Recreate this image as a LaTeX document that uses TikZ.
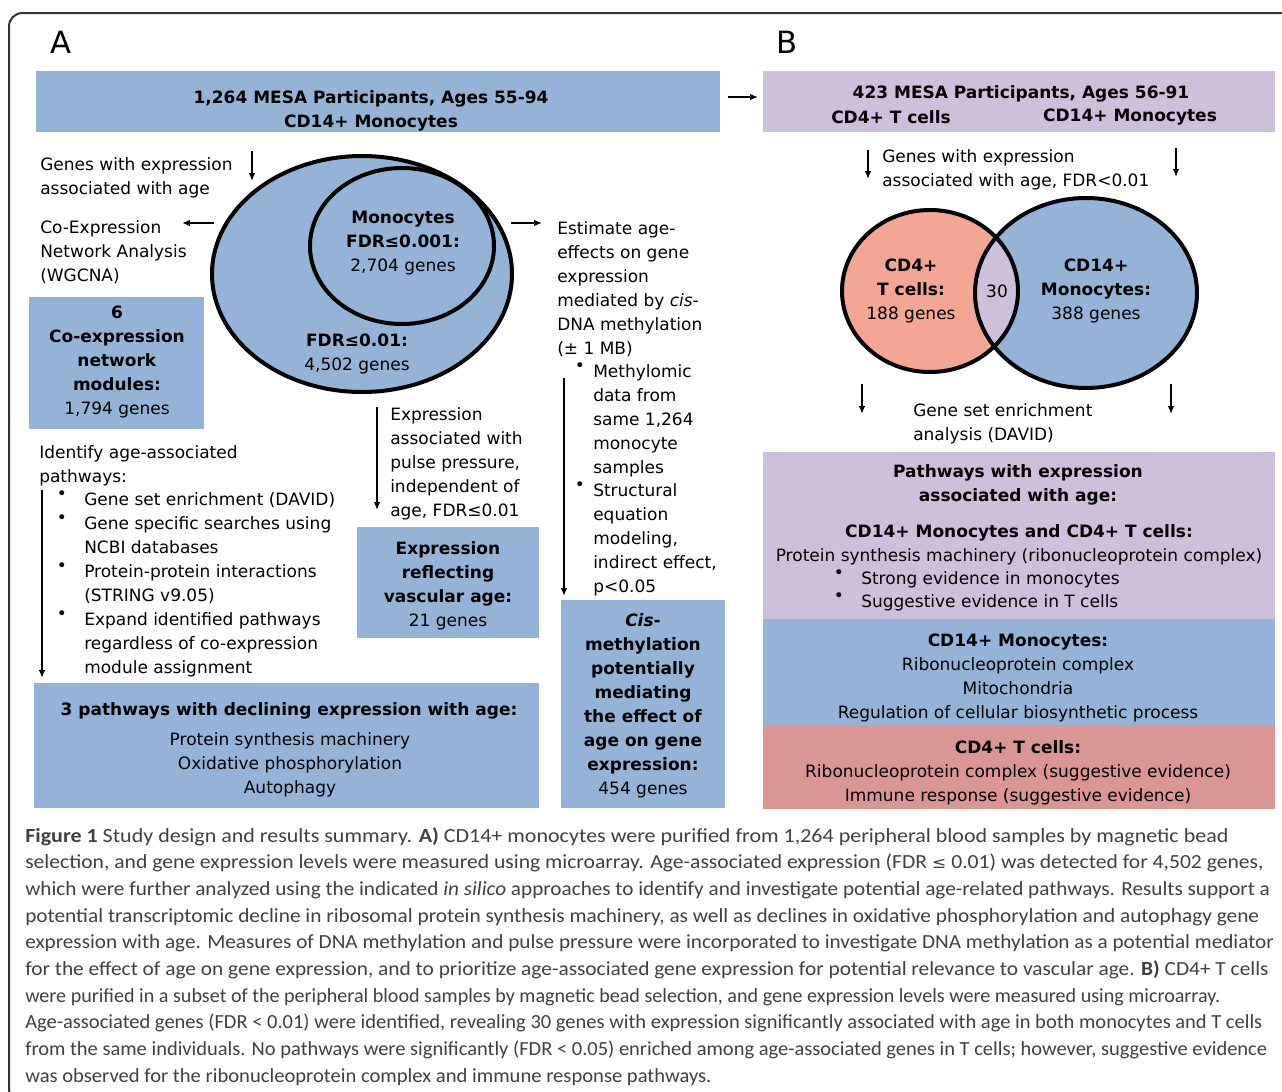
\documentclass[tikz,border=0pt]{standalone}
\usepackage{graphicx}
\usepackage{fontspec}
\setmainfont{DejaVu Sans}
\newfontfamily\capfont{Carlito}
\newfontfamily\symfont{DejaVu Sans}
\usetikzlibrary{arrows.meta}

\definecolor{boxblue}{HTML}{95B3D7}
\definecolor{boxlilac}{HTML}{CCC0DA}
\definecolor{boxrose}{HTML}{D99694}
\definecolor{ringsalmon}{HTML}{F3A693}
\definecolor{capgray}{HTML}{404040}

% one caption line, stretched to the width it has in print
\newcommand{\capline}[2]{\scalebox{#1}[1]{#2}}

\tikzset{
  txt/.style={font=\fontsize{12.75}{18}\selectfont, inner sep=0pt, align=left, anchor=north west, yshift=-1.8pt},
  ctr/.style={font=\fontsize{12.75}{18}\selectfont, inner sep=0pt, align=center, yshift=-1.8pt},
  dot/.style={font=\fontsize{12.75}{18}\selectfont, inner sep=0pt, anchor=north, yshift=-1.8pt},
  arr/.style={line width=1.6pt, -{Latex[length=6pt,width=5pt]}},
  ring/.style={line width=3pt},
}

\begin{document}
\begin{tikzpicture}[x=0.75pt, y=-0.75pt]
\useasboundingbox (0,0) rectangle (1282,1092);
% Frame
\draw[line width=1.5pt, black!80, rounded corners=10pt] (9,13) rectangle (1300,1102);
\node[font=\fontsize{23}{26}\selectfont, inner sep=0pt] (labA) at (61,42) {A};
\node[font=\fontsize{23}{26}\selectfont, inner sep=0pt] (labB) at (787,42) {B};

% Boxes
\fill[boxblue] (36,71) rectangle (720,132);
\fill[boxlilac] (763,71) rectangle (1275,132);
\fill[boxblue] (29,297) rectangle (204,429);
\fill[boxblue] (357,527) rectangle (539,638);
\fill[boxblue] (561,600) rectangle (725,808);
\fill[boxblue] (34,683) rectangle (539,808);
\fill[boxlilac] (763,452) rectangle (1275,619);
\fill[boxblue] (763,619) rectangle (1275,726);
\fill[boxrose] (763,726) rectangle (1275,809);

% Panel A
\node[ctr, font=\bfseries\fontsize{12.75}{18}\selectfont] (topA) at (371,108)
  {1,264 MESA Participants, Ages 55-94\\CD14+ Monocytes};

% Nested ellipses
\draw[ring, fill=boxblue] (362,274) ellipse [x radius=150, y radius=118];
\draw[ring, fill=boxblue] (402,246) ellipse [x radius=92, y radius=78];
\node[ctr] (fdrHigh) at (403,241) {\textbf{Monocytes}\\\textbf{FDR≤0.001:}\\2,704 genes};
\node[ctr] (fdrLow) at (357,352) {\textbf{FDR≤0.01:}\\4,502 genes};

\node[txt] (genesA) at (40,155) {Genes with expression\\associated with age};
\node[txt] (coexp) at (40,218) {Co-Expression\\Network Analysis\\(WGCNA)};
\node[ctr] (modules) at (117,360)
  {\textbf{6}\\\textbf{Co-expression}\\\textbf{network}\\\textbf{modules:}\\1,794 genes};

\node[txt] (estim) at (557,219)
  {Estimate age-\\effects on gene\\expression\\mediated by \textit{cis}-\\DNA methylation\\(± 1 MB)};
\node[dot] (m1) at (580,360) {•};
\node[txt] (meth) at (593,362) {Methylomic\\data from\\same 1,264\\monocyte\\samples};
\node[dot] (m2) at (580,479) {•};
\node[txt] (sem) at (593,481) {Structural\\equation\\modeling,\\indirect effect,\\p<0.05};
\node[ctr] (cisBox) at (643,703)
  {\textbf{\textit{Cis}-}\\\textbf{methylation}\\\textbf{potentially}\\\textbf{mediating}\\\textbf{the effect of}\\\textbf{age on gene}\\\textbf{expression:}\\454 genes};

\node[txt] (pulse) at (390,405)
  {Expression\\associated with\\pulse pressure,\\independent of\\age, FDR≤0.01};
\node[ctr] (vasc) at (448,583)
  {\textbf{Expression}\\\textbf{reflecting}\\\textbf{vascular age:}\\21 genes};

\node[txt] (ident) at (39,443) {Identify age-associated\\pathways:};
\node[dot] (i1) at (62,488) {•};
\node[txt] (david) at (84,490) {Gene set enrichment (DAVID)};
\node[dot] (i2) at (62,512) {•};
\node[txt] (ncbi) at (84,514) {Gene specific searches using\\NCBI databases};
\node[dot] (i3) at (62,560) {•};
\node[txt] (string) at (84,562) {Protein-protein interactions\\(STRING v9.05)};
\node[dot] (i4) at (62,608) {•};
\node[txt] (expand) at (84,610) {Expand identified pathways\\regardless of co-expression\\module assignment};

\node[ctr, font=\bfseries\fontsize{12.75}{18}\selectfont] (pwTitle) at (289,708)
  {3 pathways with declining expression with age:};
\node[ctr] (pwList) at (290,762)
  {Protein synthesis machinery\\Oxidative phosphorylation\\Autophagy};

% Arrows in A
\coordinate (a1s) at (252,151); \coordinate (a1e) at (252,181);
\coordinate (a2s) at (214,223); \coordinate (a2e) at (182,223);
\coordinate (a3s) at (511,223); \coordinate (a3e) at (542,223);
\coordinate (a4s) at (377,407); \coordinate (a4e) at (377,510);
\coordinate (a5s) at (42,490);  \coordinate (a5e) at (42,678);
\coordinate (a6s) at (564,378); \coordinate (a6e) at (564,596);
\coordinate (a7s) at (728,97);  \coordinate (a7e) at (758,97);
\draw[arr] (a1s) -- (a1e);
\draw[arr] (a2s) -- (a2e);
\draw[arr] (a3s) -- (a3e);
\draw[arr] (a4s) -- (a4e);
\draw[arr] (a5s) -- (a5e);
\draw[arr] (a6s) -- (a6e);
\draw[arr] (a7s) -- (a7e);

% Panel B
\node[ctr, font=\bfseries\fontsize{12.75}{18}\selectfont] (topB) at (1021,91)
  {423 MESA Participants, Ages 56-91};
\node[ctr, font=\bfseries\fontsize{12.75}{18}\selectfont] (topBt) at (891,115) {CD4+ T cells};
\node[ctr, font=\bfseries\fontsize{12.75}{18}\selectfont] (topBm) at (1130,115) {CD14+ Monocytes};
\node[txt] (genesB) at (882,147) {Genes with expression\\associated with age, FDR<0.01};

% Venn
\fill[ringsalmon] (930,291) ellipse [x radius=88, y radius=81];
\fill[boxblue] (1086,293) ellipse [x radius=111, y radius=95];
\begin{scope}
  \clip (930,291) ellipse [x radius=88, y radius=81];
  \fill[boxlilac] (1086,293) ellipse [x radius=111, y radius=95];
\end{scope}
\draw[ring] (930,291) ellipse [x radius=88, y radius=81];
\draw[ring] (1086,293) ellipse [x radius=111, y radius=95];
\node[ctr] (tcell) at (911,289) {\textbf{CD4+}\\\textbf{T cells:}\\188 genes};
\node[ctr] (both) at (997,289) {30};
\node[ctr] (mono) at (1096,289) {\textbf{CD14+}\\\textbf{Monocytes:}\\388 genes};

\node[txt] (gsea) at (913,401) {Gene set enrichment\\analysis (DAVID)};

\node[ctr] (pwB) at (1018,482) {\textbf{Pathways with expression}\\\textbf{associated with age:}};
\node[ctr] (bothHd) at (1019,530) {\textbf{CD14+ Monocytes and CD4+ T cells:}};
\node[ctr] (bothTx) at (1019,554) {Protein synthesis machinery (ribonucleoprotein complex)};
\node[dot] (s1) at (839,567) {•};
\node[txt] (strong) at (861,569) {Strong evidence in monocytes};
\node[dot] (s2) at (839,590) {•};
\node[txt] (sugg) at (861,592) {Suggestive evidence in T cells};
\node[ctr] (monoB) at (1018,676)
  {\textbf{CD14+ Monocytes:}\\Ribonucleoprotein complex\\Mitochondria\\Regulation of cellular biosynthetic process};
\node[ctr] (tcellB) at (1018,770)
  {\textbf{CD4+ T cells:}\\Ribonucleoprotein complex (suggestive evidence)\\Immune response (suggestive evidence)};

% Arrows in B
\coordinate (b1s) at (868,150);  \coordinate (b1e) at (868,179);
\coordinate (b2s) at (1176,148); \coordinate (b2e) at (1176,177);
\coordinate (b3s) at (862,384);  \coordinate (b3e) at (862,414);
\coordinate (b4s) at (1171,384); \coordinate (b4e) at (1171,414);
\draw[arr] (b1s) -- (b1e);
\draw[arr] (b2s) -- (b2e);
\draw[arr] (b3s) -- (b3e);
\draw[arr] (b4s) -- (b4e);

% Caption
\node[inner sep=0pt, anchor=north west, align=left, text=capgray,
      font=\capfont\fontsize{15}{20}\selectfont] (caption) at (25,827)
{\capline{1.10}{\textbf{Figure 1} Study design and results summary. \textbf{A)} CD14+ monocytes were purified from 1,264 peripheral blood samples by magnetic bead}\\
\capline{1.08}{selection, and gene expression levels were measured using microarray. Age-associated expression (FDR {\symfont\fontsize{12}{14}\selectfont≤} 0.01) was detected for 4,502 genes,}\\
\capline{1.06}{which were further analyzed using the indicated \textit{in silico} approaches to identify and investigate potential age-related pathways. Results support a}\\
\capline{1.066}{potential transcriptomic decline in ribosomal protein synthesis machinery, as well as declines in oxidative phosphorylation and autophagy gene}\\
\capline{1.06}{expression with age. Measures of DNA methylation and pulse pressure were incorporated to investigate DNA methylation as a potential mediator}\\
\capline{1.068}{for the effect of age on gene expression, and to prioritize age-associated gene expression for potential relevance to vascular age. \textbf{B)} CD4+ T cells}\\
\capline{1.005}{were purified in a subset of the peripheral blood samples by magnetic bead selection, and gene expression levels were measured using microarray.}\\
\capline{1.025}{Age-associated genes (FDR < 0.01) were identified, revealing 30 genes with expression significantly associated with age in both monocytes and T cells}\\
\capline{1.024}{from the same individuals. No pathways were significantly (FDR < 0.05) enriched among age-associated genes in T cells; however, suggestive evidence}\\
\capline{1.03}{was observed for the ribonucleoprotein complex and immune response pathways.}};
\end{tikzpicture}
\end{document}
